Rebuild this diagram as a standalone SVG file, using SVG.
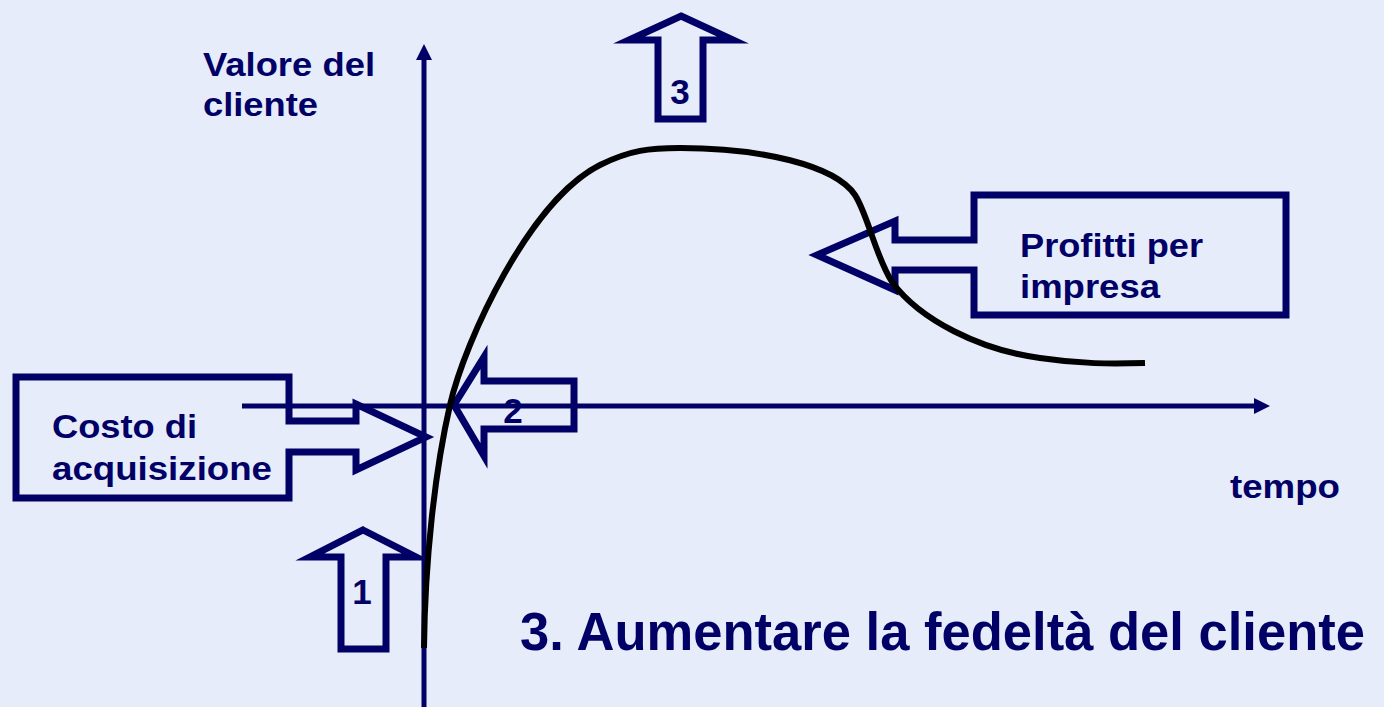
<svg xmlns="http://www.w3.org/2000/svg" width="1384" height="707" viewBox="0 0 1384 707">
<defs>
<style>
.bg{fill:#E6ECF9}
.axis{stroke:#000066;stroke-width:5;fill:none}
.head{fill:#000066}
.call{fill:none;stroke:#000066;stroke-width:7;stroke-linejoin:miter;stroke-miterlimit:10}
.lbl{font-family:"Liberation Sans",Arial,sans-serif;font-weight:bold;fill:#000066;font-size:34px}
.num{font-family:"Liberation Sans",Arial,sans-serif;font-weight:bold;fill:#000066;font-size:35px;text-anchor:middle}
.title{font-family:"Liberation Sans",Arial,sans-serif;font-weight:bold;fill:#000066;font-size:53px}
.curve{fill:none;stroke:#000000;stroke-width:6}
</style>
</defs>
<rect class="bg" x="0" y="0" width="1384" height="707"/>
<g id="connectors">
<line class="axis" x1="424" y1="707" x2="424" y2="56"/>
<polygon class="head" points="424,44 416,60 432,60"/>
<line class="axis" x1="242" y1="406" x2="1258" y2="406"/>
<polygon class="head" points="1270,406 1254,398 1254,414"/>
</g>
<g id="label-valore">
<text class="lbl" x="203" y="76" textLength="172" lengthAdjust="spacingAndGlyphs">Valore del</text>
<text class="lbl" x="203" y="116" textLength="115" lengthAdjust="spacingAndGlyphs">cliente</text>
</g>
<g id="label-tempo">
<text class="lbl" x="1230" y="498" textLength="110" lengthAdjust="spacingAndGlyphs">tempo</text>
</g>
<g id="callout-costo">
<polygon class="call" points="16,377 289,377 289,421 356,421 356,404 426,437 356,470 356,452 289,452 289,498 16,498"/>
<text class="lbl" x="52" y="438" textLength="145" lengthAdjust="spacingAndGlyphs">Costo di</text>
<text class="lbl" x="52" y="480" textLength="220" lengthAdjust="spacingAndGlyphs">acquisizione</text>
</g>
<g id="callout-profitti">
<polygon class="call" points="974,195 1286,195 1286,315 974,315 974,270 895,270 895,290 817,255 895,221 895,240 974,240"/>
<text class="lbl" x="1020" y="257" textLength="183" lengthAdjust="spacingAndGlyphs">Profitti per</text>
<text class="lbl" x="1020" y="298" textLength="140" lengthAdjust="spacingAndGlyphs">impresa</text>
</g>
<g id="arrow-1">
<polygon class="call" points="363,530 416,557 386,557 386,649 341,649 341,557 310,557"/>
<text class="num" x="362" y="604">1</text>
</g>
<g id="arrow-2">
<polygon class="call" points="454,405 484,357 484,381 574,381 574,429 484,429 484,456"/>
<text class="num" x="513" y="423">2</text>
</g>
<g id="arrow-3">
<polygon class="call" points="681,16 733,40 703,40 703,119 658,119 658,40 629,40"/>
<text class="num" x="680" y="104">3</text>
</g>
<g id="curve">
<path class="curve" d="M424,648 C425,560 435,470 450,405 C465,340 530,200 600,165 C630,150 650,148 680,148 C760,148 835,165 855,195 C868,215 875,255 892,282 C920,320 980,350 1040,358 C1080,364 1110,364 1145,363"/>
</g>
<g id="title">
<text class="title" x="520" y="650" textLength="845" lengthAdjust="spacingAndGlyphs">3. Aumentare la fedeltà del cliente</text>
</g>
</svg>
